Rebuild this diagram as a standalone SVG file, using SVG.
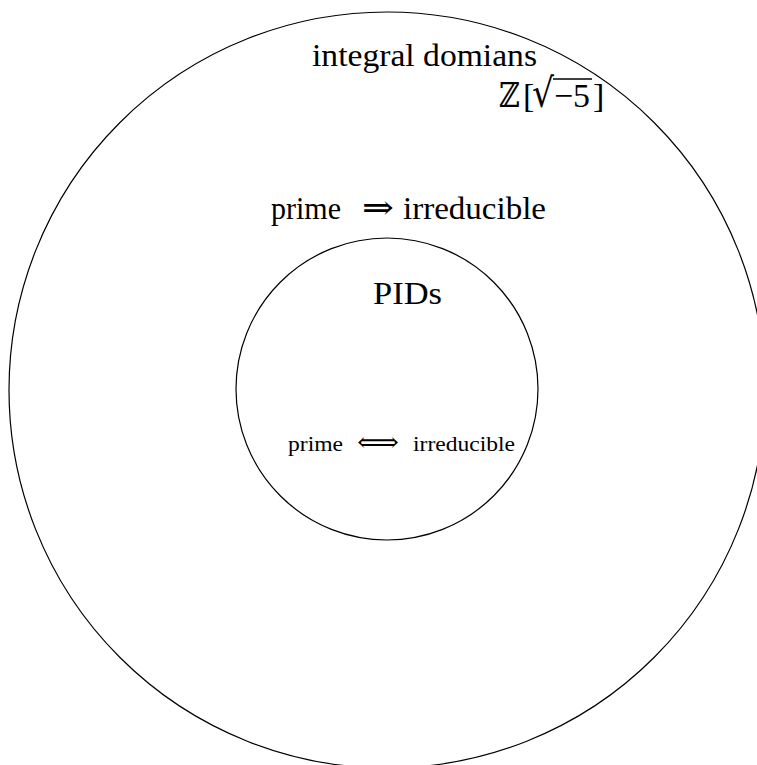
<svg xmlns="http://www.w3.org/2000/svg" width="757" height="765" viewBox="0 0 757 765">
  <style>
    .ring { fill: none; stroke: #000; stroke-width: 1.2; }
    .lbl { font-family: "Liberation Serif", "DejaVu Serif", serif; fill: #000; }
    .big { font-size: 32px; }
    .small { font-size: 22px; }
    .sym { font-family: "DejaVu Serif", "DejaVu Sans", serif; }
  </style>
  <rect width="757" height="765" fill="#fff"/>

  <!-- outer region: integral domains -->
  <g id="integral-domains">
    <circle class="ring" cx="387" cy="390" r="378"/>
    <text class="lbl big" x="312" y="66" textLength="225" lengthAdjust="spacingAndGlyphs">integral domians</text>
    <text class="lbl" y="107" font-size="34"><tspan class="sym" x="499" textLength="21" lengthAdjust="spacingAndGlyphs">ℤ</tspan><tspan x="523">[</tspan><tspan class="sym" x="532" font-size="40" textLength="22" lengthAdjust="spacingAndGlyphs">√</tspan><tspan x="554" textLength="36" lengthAdjust="spacingAndGlyphs">−5</tspan><tspan x="593">]</tspan></text>
    <line x1="553" y1="79" x2="592" y2="79" stroke="#000" stroke-width="1.4"/>
    <text class="lbl big" y="219"><tspan x="271" textLength="70" lengthAdjust="spacingAndGlyphs">prime</tspan><tspan class="sym" x="362" font-size="34" textLength="32" lengthAdjust="spacingAndGlyphs">⇒</tspan><tspan x="403" textLength="143" lengthAdjust="spacingAndGlyphs">irreducible</tspan></text>
  </g>

  <!-- inner region: PIDs -->
  <g id="pids">
    <circle class="ring" cx="387" cy="389" r="151"/>
    <text class="lbl big" x="373" y="304" textLength="69" lengthAdjust="spacingAndGlyphs">PIDs</text>
    <text class="lbl small" y="451"><tspan x="288" textLength="55" lengthAdjust="spacingAndGlyphs">prime</tspan><tspan class="sym" x="357" font-size="26" textLength="42" lengthAdjust="spacingAndGlyphs">⟺</tspan><tspan x="413" textLength="102" lengthAdjust="spacingAndGlyphs">irreducible</tspan></text>
  </g>

  <g id="connectors"/>
</svg>
